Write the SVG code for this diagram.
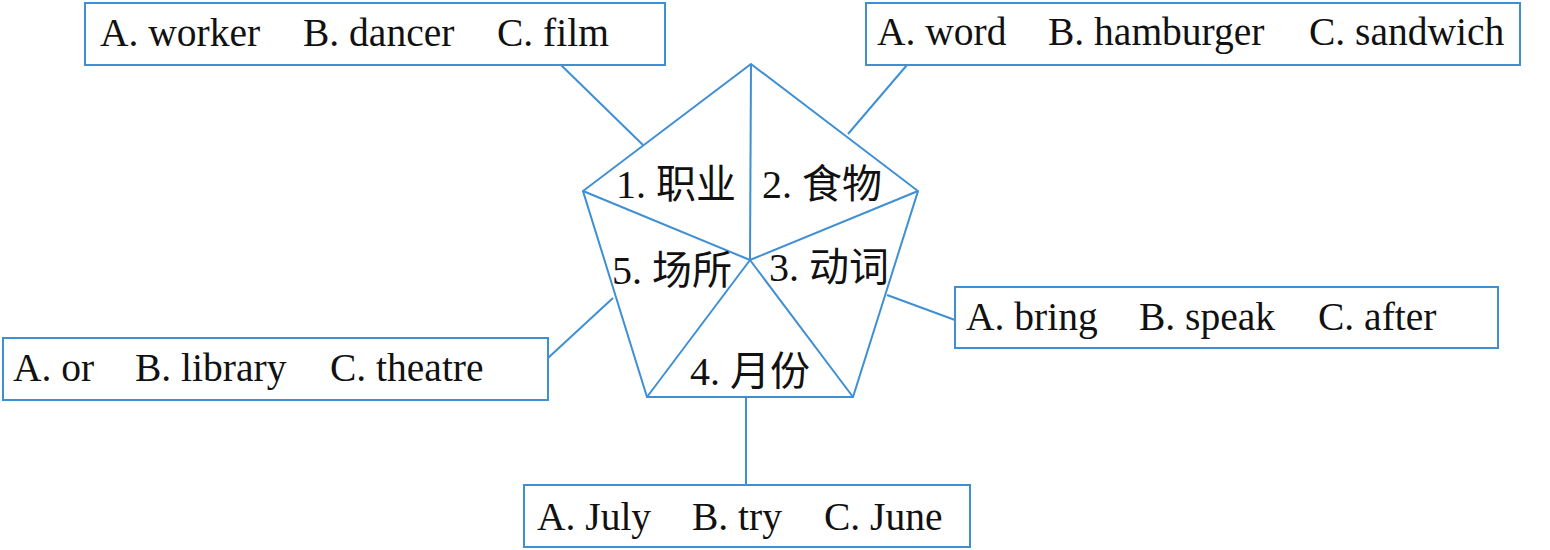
<svg xmlns="http://www.w3.org/2000/svg" width="1550" height="550" viewBox="0 0 1550 550">
<style>
.box{fill:#fff;stroke:#3f8fd4;stroke-width:2}
.ln{stroke:#3f8fd4;stroke-width:2;fill:none}
.t{font-family:'Liberation Serif','Times New Roman',Tinos,'DejaVu Serif','Noto Sans CJK SC',serif;font-size:39.5px;fill:#111}
.c{font-family:'Liberation Serif','Times New Roman',Tinos,'DejaVu Serif','Noto Sans CJK SC',serif;font-size:40px;fill:#111}
</style>
<rect width="1550" height="550" fill="#fff"/>
<g id="connectors">
<line class="ln" x1="561" y1="65" x2="643" y2="145"/>
<line class="ln" x1="907" y1="65" x2="848" y2="134"/>
<line class="ln" x1="887" y1="295" x2="955" y2="320"/>
<line class="ln" x1="613" y1="298" x2="548" y2="358"/>
<line class="ln" x1="746" y1="397" x2="746" y2="485"/>
</g>
<g id="pentagon">
<polygon class="ln" points="751,64 918,191 853,397 647,397 583,191"/>
<line class="ln" x1="751" y1="64" x2="750" y2="260"/>
<line class="ln" x1="918" y1="191" x2="750" y2="260"/>
<line class="ln" x1="853" y1="397" x2="750" y2="260"/>
<line class="ln" x1="647" y1="397" x2="750" y2="260"/>
<line class="ln" x1="583" y1="191" x2="750" y2="260"/>
<text class="c" x="616" y="198">1. 职业</text>
<text class="c" x="762" y="198">2. 食物</text>
<text class="c" x="769" y="281">3. 动词</text>
<text class="c" x="690" y="385">4. 月份</text>
<text class="c" x="612" y="284">5. 场所</text>
</g>
<g id="box1">
<rect class="box" x="85" y="3" width="580" height="62"/>
<text class="t" x="100" y="46">A. worker</text>
<text class="t" x="303" y="46">B. dancer</text>
<text class="t" x="497" y="46">C. film</text>
</g>
<g id="box2">
<rect class="box" x="866" y="3" width="654" height="62"/>
<text class="t" x="877" y="45">A. word</text>
<text class="t" x="1048" y="45">B. hamburger</text>
<text class="t" x="1309" y="45">C. sandwich</text>
</g>
<g id="box3">
<rect class="box" x="955" y="287" width="543" height="61"/>
<text class="t" x="966" y="330">A. bring</text>
<text class="t" x="1139" y="330">B. speak</text>
<text class="t" x="1318" y="330">C. after</text>
</g>
<g id="box4">
<rect class="box" x="3" y="338" width="545" height="62"/>
<text class="t" x="13" y="381">A. or</text>
<text class="t" x="135" y="381">B. library</text>
<text class="t" x="330" y="381">C. theatre</text>
</g>
<g id="box5">
<rect class="box" x="524" y="485" width="446" height="62"/>
<text class="t" x="537" y="530">A. July</text>
<text class="t" x="692" y="530">B. try</text>
<text class="t" x="824" y="530">C. June</text>
</g>
</svg>
